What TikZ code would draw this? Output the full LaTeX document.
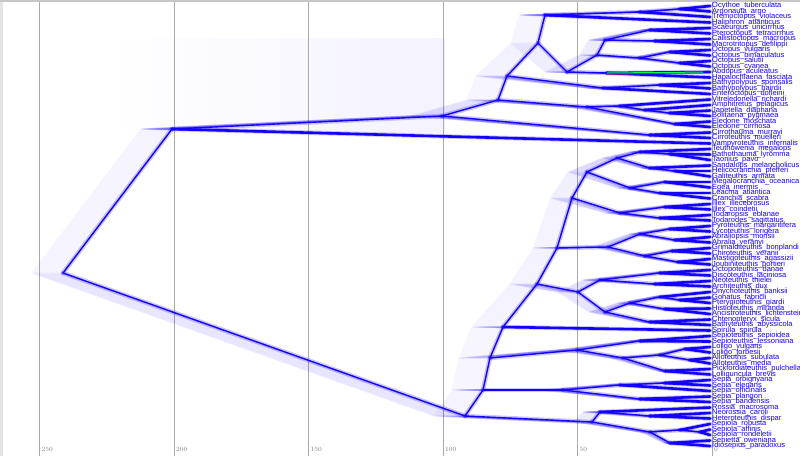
\documentclass[tikz,border=0pt]{standalone}
\usepackage{fontspec}
\newfontfamily\taxonfont{Liberation Sans}
\usetikzlibrary{positioning,calc}
\definecolor{tree}{HTML}{1400FF}
\definecolor{gridc}{HTML}{AAAAAA}

\tikzset{
  branchhaze/.style={draw=tree, line width=1.5pt, opacity=0.035},
  branchwide/.style={draw=tree, line width=4.5pt, opacity=0.22, line cap=round},
  branch/.style={draw=tree, line width=1.4pt, line cap=round},
  tipbranch/.style={draw=tree, line width=2.6pt, line cap=round},
  taxon/.style={font=\taxonfont\fontsize{7.5}{7.5}\selectfont, text=tree, inner sep=0pt},
  tick/.style={font=\fontsize{6.5}{7}\selectfont, text=gray, anchor=south west, inner sep=1pt},
  gridline/.style={draw=gridc, line width=0.8pt}
}

% parent/child pairs between inner nodes
\def\inneredges{r/of, r/dec, of/oc, oc/inc, oc/ci,
  inc/a, inc/c, a/b, a/d, b/ar, b/e, ar/ar1, ar1/ar2,
  e/f, e/g, f/h, f/i, h/h1, h/h2, i/i1, i/i2, d/d1,
  c/bo, c/el, bo/bo1, bo1/bo2,
  dec/n1, dec/s, n1/n2, n1/sp, n2/n3, n2/lo, n3/n4, n4/n5, n4/q,
  n5/n6, n5/p, n6/cr, n6/om, cr/c1, cr/c2, c1/c3, c1/c4, c3/c5,
  c4/c6, c2/c7, c2/c8, om/om1, om/om2,
  p/p1, p/p2, p1/pa, p1/pb, p2/pc, p2/pd,
  q/q1, q/q2, q1/q3, q1/q4, q2/q5, q2/q6, q5/q7, q5/q8, q7/q9,
  lo/l1, lo/l2, l2/l3, l2/l4, l3/l5, l3/l6,
  sp/sp1, sp/sp2, sp1/sp3, s/s1, s/s2, s1/s3, s2/s4, s2/s5, s4/s6}
% parent/tip pairs
\def\tipedges{of/t26, ci/t24, ci/t25, ar/t4, ar1/t3, ar2/t1, ar2/t2,
  h1/t5, h1/t6, h2/t7, h2/t8, i1/t9, i1/t10, i2/t11, i2/t12, g/t13, g/t14,
  d/t17, d1/t15, d1/t16, bo/t18, bo1/t19, bo2/t20, bo2/t21, el/t22, el/t23,
  n3/t60, c3/t27, c5/t28, c5/t29, c4/t30, c6/t31, c6/t32, c7/t33, c7/t34,
  c8/t35, c8/t36, om1/t37, om1/t38, om2/t39, om2/t40,
  pa/t41, pa/t42, pb/t43, pb/t44, pc/t45, pc/t46, pd/t47, pd/t48,
  q3/t49, q3/t50, q4/t51, q4/t52, q7/t53, q9/t54, q9/t55, q8/t56, q8/t57,
  q6/t58, q6/t59, l1/t61, l1/t62, l5/t63, l5/t64, l6/t65, l6/t66, l4/t67, l4/t68,
  sp1/t71, sp3/t69, sp3/t70, sp2/t72, sp2/t73, s1/t74, s3/t75, s3/t76,
  s4/t77, s6/t78, s6/t79, s5/t80, s5/t81}
\edef\alledges{\inneredges, \tipedges}

\begin{document}
\begin{tikzpicture}[x=1pt,y=-1pt]
\useasboundingbox (0,0) rectangle (800,456);
\clip (0,0) rectangle (800,456);
\fill[gray!20] (0,0) rectangle (3,456);
\fill[gray!45] (0,0) rectangle (800,2);
% faint band of the octopods
\shade[left color=white, right color=tree!5] (110,38) rectangle (445,132);

% time axis
\foreach \v [count=\k from 0] in {250,200,150,100,50,0}{
  \coordinate (gt\k) at ({39.5+134.5*\k},2);
  \coordinate (gb\k) at ({39.5+134.5*\k},456);
  \draw[gridline] (gt\k) -- (gb\k);
  \node[tick] (k\v) at ({40.5+134.5*\k},453) {\v};
}

% tips
\foreach \i in {1,...,81}
  \coordinate (t\i) at (710,{5.5*\i+0.5});

% inner nodes
\coordinate (r) at (63,273);
\coordinate (of) at (172,129);
\coordinate (oc) at (442,116);
\coordinate (ci) at (650,135);
\coordinate (inc) at (498,100);
\coordinate (a) at (507,76);
\coordinate (b) at (538,43);
\coordinate (ar) at (545,15);
\coordinate (ar1) at (640,12);
\coordinate (ar2) at (680,9);
\coordinate (e) at (567,72);
\coordinate (f) at (597,55);
\coordinate (h) at (605,40);
\coordinate (h1) at (650,30);
\coordinate (h2) at (655,41);
\coordinate (i) at (640,58);
\coordinate (i1) at (670,52);
\coordinate (i2) at (680,63);
\coordinate (g) at (607,73);
\coordinate (d) at (603,88);
\coordinate (d1) at (660,85);
\coordinate (c) at (587,107);
\coordinate (bo) at (620,106);
\coordinate (bo1) at (645,110);
\coordinate (bo2) at (670,113);
\coordinate (el) at (675,124);
\coordinate (dec) at (465,416);
\coordinate (n1) at (483,390);
\coordinate (n2) at (490,358);
\coordinate (n3) at (503,327);
\coordinate (n4) at (537,284);
\coordinate (n5) at (557,248);
\coordinate (n6) at (572,198);
\coordinate (cr) at (587,172);
\coordinate (c1) at (617,158);
\coordinate (c3) at (640,152);
\coordinate (c5) at (670,154);
\coordinate (c4) at (650,168);
\coordinate (c6) at (675,171);
\coordinate (c2) at (630,188);
\coordinate (c7) at (665,182);
\coordinate (c8) at (660,193);
\coordinate (om) at (620,213);
\coordinate (om1) at (665,207);
\coordinate (om2) at (660,218);
\coordinate (p) at (608,247);
\coordinate (p1) at (640,234);
\coordinate (pa) at (670,229);
\coordinate (pb) at (675,240);
\coordinate (p2) at (645,256);
\coordinate (pc) at (672,251);
\coordinate (pd) at (678,262);
\coordinate (q) at (578,292);
\coordinate (q1) at (600,280);
\coordinate (q3) at (660,273);
\coordinate (q4) at (655,284);
\coordinate (q2) at (605,312);
\coordinate (q5) at (630,303);
\coordinate (q7) at (660,297);
\coordinate (q9) at (680,300);
\coordinate (q8) at (665,309);
\coordinate (q6) at (650,322);
\coordinate (lo) at (577,350);
\coordinate (l1) at (640,341);
\coordinate (l2) at (623,358);
\coordinate (l3) at (660,355);
\coordinate (l5) at (685,349);
\coordinate (l6) at (690,360);
\coordinate (l4) at (665,371);
\coordinate (sp) at (563,390);
\coordinate (sp1) at (620,385);
\coordinate (sp3) at (665,383);
\coordinate (sp2) at (640,399);
\coordinate (s) at (592,422);
\coordinate (s1) at (600,412);
\coordinate (s3) at (650,416);
\coordinate (s2) at (650,432);
\coordinate (s4) at (680,430);
\coordinate (s6) at (700,432);
\coordinate (s5) at (670,443);

% cloud of node heights
\foreach \s in {3,6,...,54}
  \foreach \mom/\kid in \alledges
    \path[branchhaze] let \p1=(\mom), \p2=(\kid) in
      ({\x1-\s/350*min(710pt-\x1,200pt)},\y1) -- ({\x2-\s/350*min(710pt-\x2,200pt)},\y2);

\foreach \mom/\kid in \alledges
  \draw[branchwide] (\mom) -- (\kid);
\foreach \mom/\kid in \inneredges
  \draw[branch] (\mom) -- (\kid);
\foreach \mom/\kid in \tipedges
  \draw[tipbranch] (\mom) -- (\kid);

% highlighted lineage
\draw[green!75!cyan, line width=1pt] (g) -- ($(g)!0.93!(t13)$);
\draw[red!80, line width=0.5pt] ($(g)+(0,1.2)$) -- ($(g)!0.93!(t13)+(0,1.2)$);

% taxa
\foreach \tx [count=\i] in {Ocythoe\_tuberculata, Argonauta\_argo, Tremoctopus\_violaceus,
  Haliphron\_atlanticus, Scaeurgus\_unicirrhus, Pteroctopus\_tetracirrhus,
  Callistoctopus\_macropus, Macrotritopus\_defilippi, Octopus\_vulgaris,
  Octopus\_bimaculatus, Octopus\_salutii, Octopus\_cyanea, Abdopus\_aculeatus,
  Hapalochlaena\_fasciata, Bathypolypus\_sponsalis, Bathypolypus\_bairdii,
  Enteroctopus\_dofleini, Vitreledonella\_richardi, Amphitretus\_pelagicus,
  Japetella\_diaphana, Bolitaena\_pygmaea, Eledone\_moschata, Eledone\_cirrhosa,
  Cirrothauma\_murrayi, Cirroteuthis\_muelleri, Vampyroteuthis\_infernalis,
  Teuthowenia\_megalops, Bathothauma\_lyromma, Taonius\_pavo,
  Sandalops\_melancholicus, Helicocranchia\_pfefferi, Galiteuthis\_armata,
  Megalocranchia\_oceanica, Egea\_inermis, Leachia\_atlantica, Cranchia\_scabra,
  Illex\_illecebrosus, Illex\_coindetii, Todaropsis\_eblanae, Todarodes\_sagittatus,
  Pyroteuthis\_margaritifera, Lycoteuthis\_lorigera, Abraliopsis\_morisii,
  Abralia\_veranyi, Grimalditeuthis\_bonplandi, Chiroteuthis\_veranii,
  Mastigoteuthis\_agassizii, Joubiniteuthis\_portieri, Octopoteuthis\_danae,
  Discoteuthis\_laciniosa, Neoteuthis\_thielei, Architeuthis\_dux,
  Onychoteuthis\_banksii, Gonatus\_fabricii, Pterygioteuthis\_giardi,
  Histioteuthis\_miranda, Ancistroteuthis\_lichtensteinii, Chtenopteryx\_sicula,
  Bathyteuthis\_abyssicola, Spirula\_spirula, Sepioteuthis\_sepioidea,
  Sepioteuthis\_lessoniana, Loligo\_vulgaris, Loligo\_forbesii,
  Alloteuthis\_subulata, Alloteuthis\_media, Pickfordiateuthis\_pulchella,
  Lolliguncula\_brevis, Sepia\_orbignyana, Sepia\_elegans, Sepia\_officinalis,
  Sepia\_plangon, Sepia\_bandensis, Rossia\_macrosoma, Neorossia\_caroli,
  Heteroteuthis\_dispar, Sepiola\_robusta, Sepiola\_affinis, Sepiola\_rondeletii,
  Sepietta\_oweniana, Idiosepius\_paradoxus}
  \node[taxon, right=2pt of t\i] (l\i) {\tx};
\end{tikzpicture}
\end{document}
